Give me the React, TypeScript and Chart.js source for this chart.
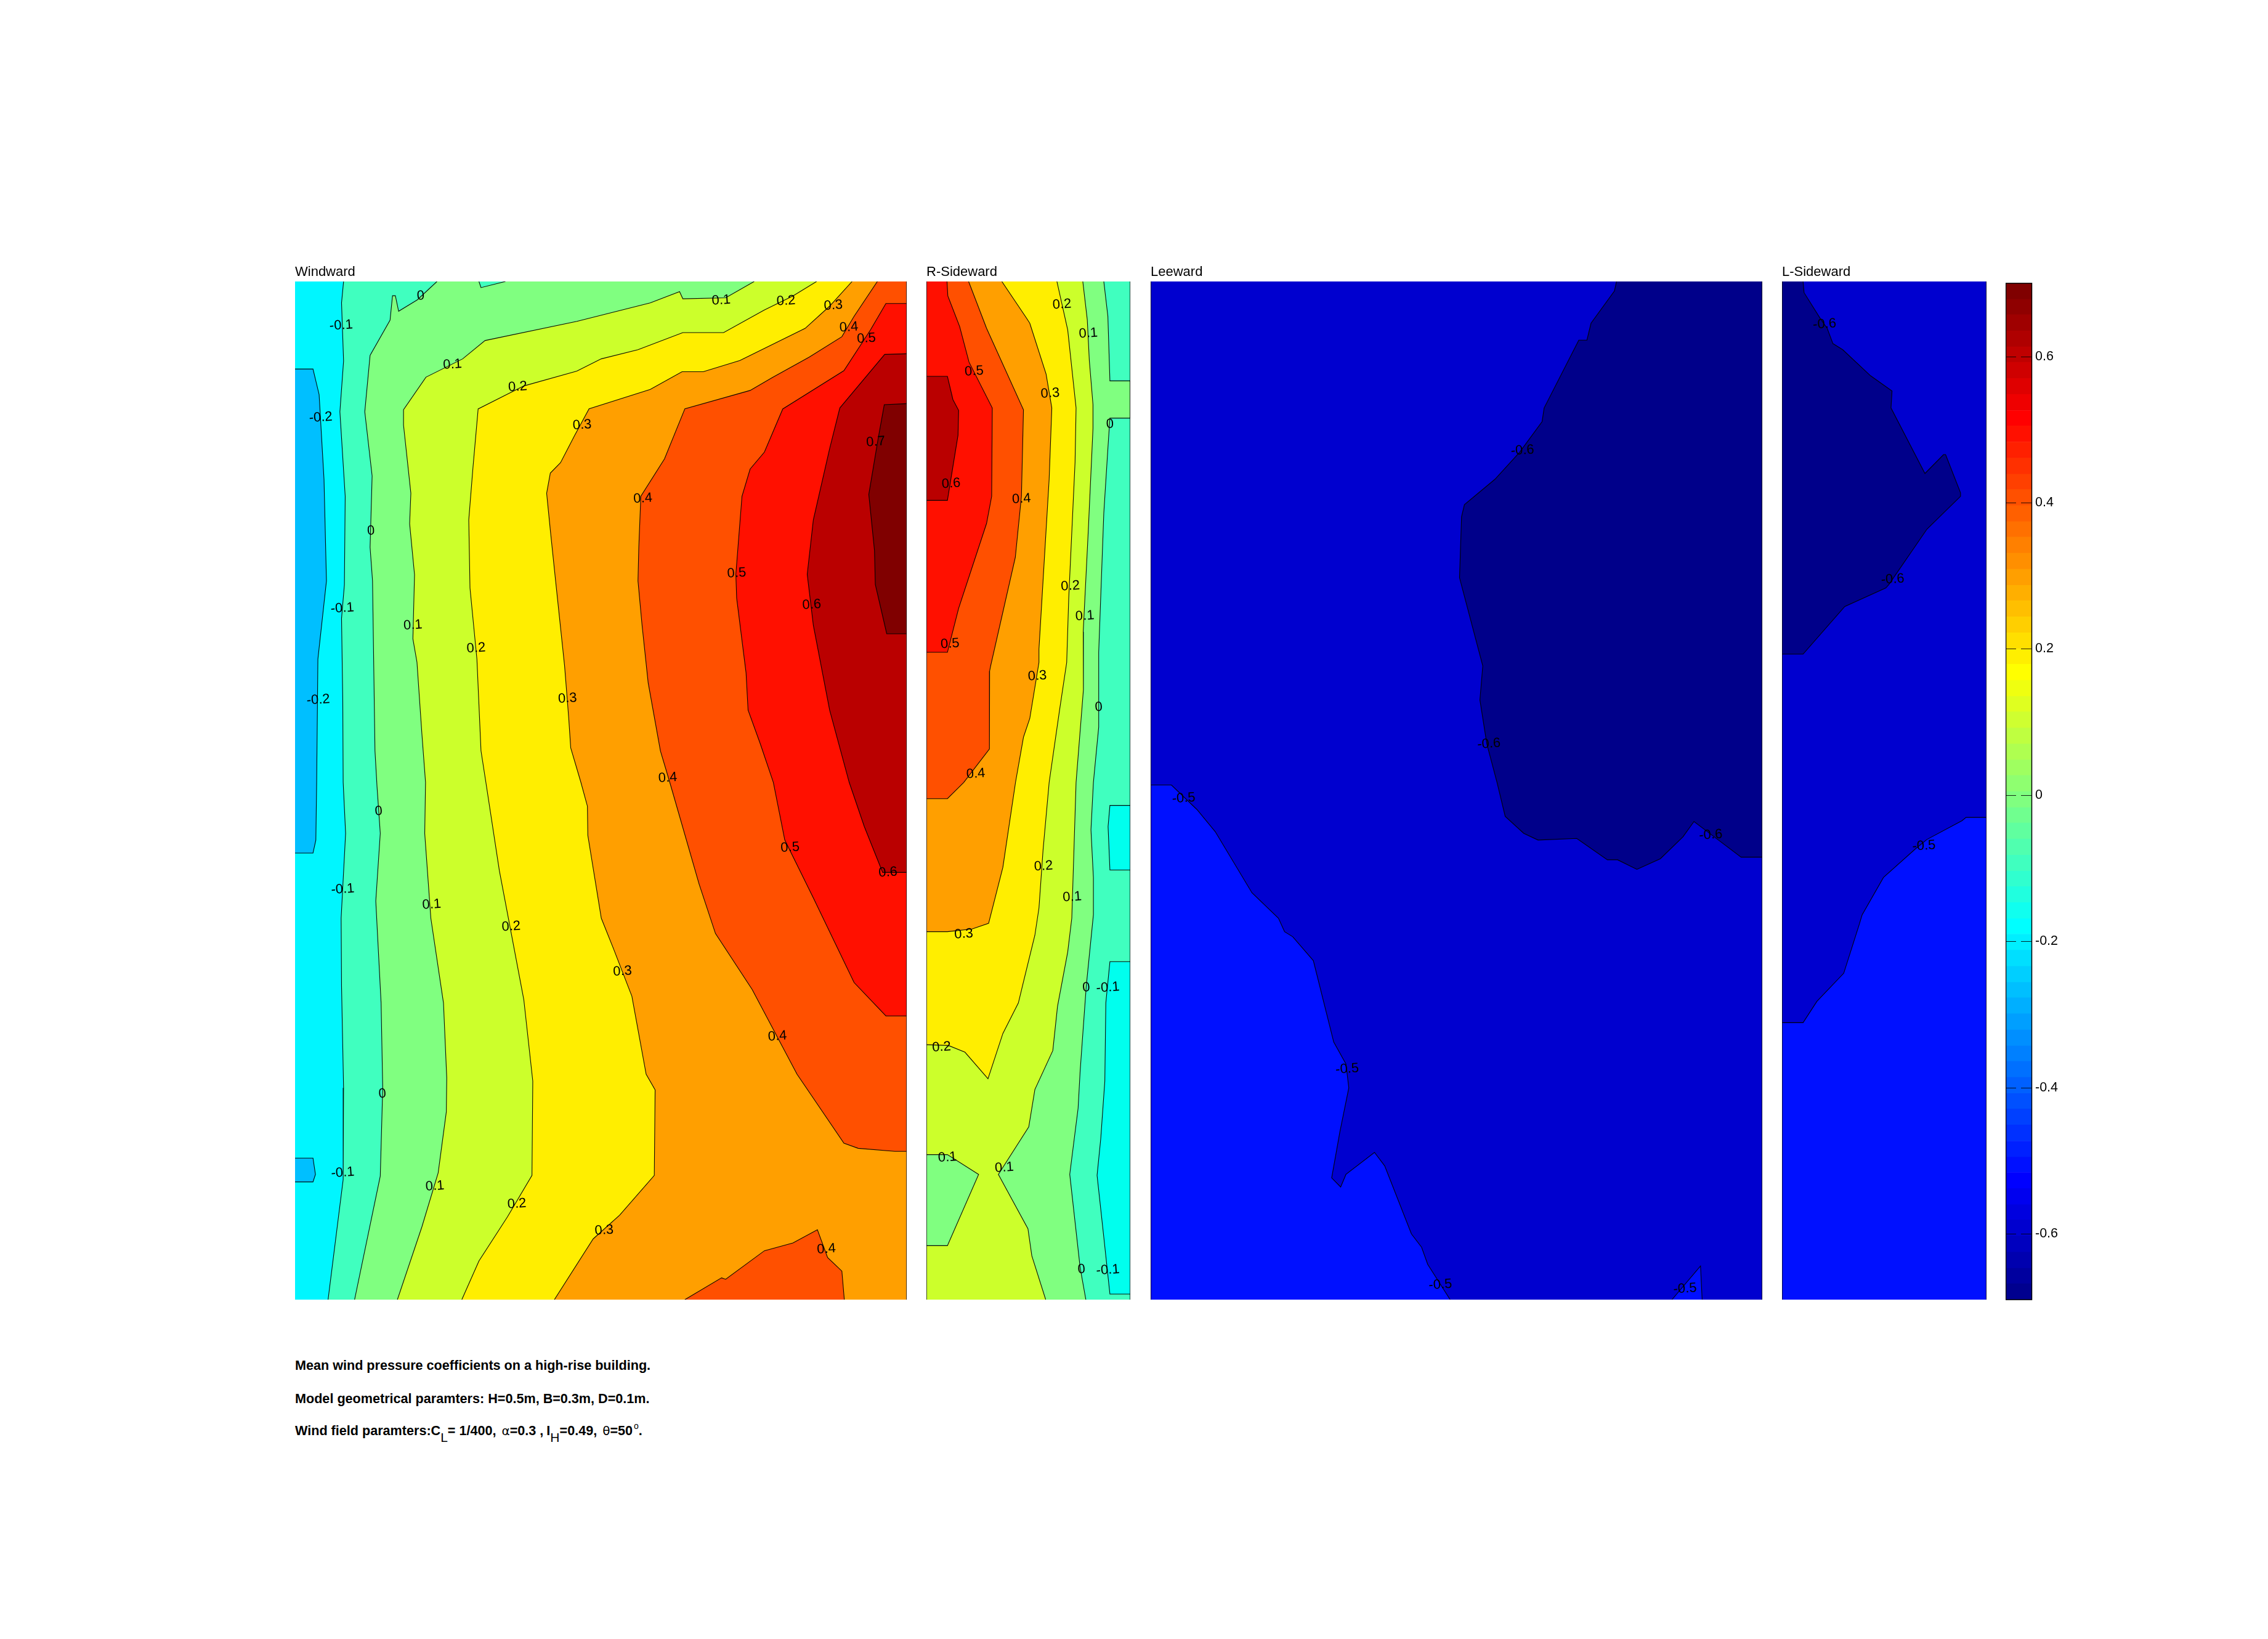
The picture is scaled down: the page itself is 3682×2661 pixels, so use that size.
import React, { useEffect, useRef } from "react";
import { Chart, registerables } from "chart.js";

Chart.register(...registerables);

const FONT = '"Liberation Sans", Arial, sans-serif';

type P = number[];
type L = [number, number, string];

// Coordinates: x along the face in mm, z height above ground in mm (H = 500 mm).

/* ---------- Windward face (B = 300 mm) ---------- */
const windM01: P[] = [[23.8,500],[22.8,489.5],[23.8,461],[22,436],[24.6,394.5],[24.2,351],[22.8,334.5],[23.4,294.5],[23.6,254],[24.8,229],[22.6,187.3],[22.8,154],[23.8,104],[23.6,59],[16.2,0]];
const wind00: P[] = [[69.6,500],[60,491],[50.8,485.4],[49.2,493],[47.8,493],[46.6,481],[36.8,463.7],[34.2,436],[37.8,404.5],[36.8,369.5],[38,353],[38.6,311],[39.2,269.5],[40.2,252],[41.8,229],[39.6,195.7],[42.2,145.7],[43,104],[41.8,60.7],[29.2,0]];
const wind00Patch: P[] = [[90.2,500],[91.2,497],[103.2,500]];
const wind01: P[] = [[225.2,500],[211.2,492],[190.2,491.5],[188.6,495],[174.2,489.5],[138.2,480.4],[93.2,471],[82.2,462],[64.2,453],[53.2,437],[53.2,429.5],[56.8,396],[56.2,381],[58.6,356],[57.8,324.5],[59.8,313],[62.2,278],[64,254],[63.6,229],[66.6,187.3],[72.8,145.7],[74.4,109],[74.2,92.3],[70.2,62.3],[62.2,35.7],[50.2,0]];
const wind02: P[] = [[255.8,500],[244.2,492.9],[230.2,486],[210.2,474.9],[190.2,474.9],[168.2,466.5],[150.2,462],[138.2,456],[112.2,448.7],[89.8,437.4],[87.2,407.9],[85.2,382.9],[85.8,349.5],[89.2,314.5],[91.2,269.5],[93.6,254],[100.2,210.7],[106.2,179],[112.2,147.3],[116.6,107.3],[116.2,61],[104.2,40.7],[90.2,19],[81.8,0]];
const wind03: P[] = [[273.2,500],[262.2,487.9],[250.2,477],[218.2,461.2],[200.2,455.7],[189.8,455.7],[174.2,447],[144.2,437.5],[137.2,424.5],[130.2,411],[125.2,405.9],[123.4,396],[125.2,377.9],[127.8,352.9],[132.2,311.2],[134.2,286],[135.2,271],[140.2,254],[143.4,242.3],[143.6,228],[150.2,187.3],[156.2,172.3],[165.2,149],[172.2,110.7],[176.6,103],[176.2,61],[159.2,41.5],[146.2,29.8],[127.2,0]];
const wind04: P[] = [[285.6,500],[274.2,482.9],[268.2,472.9],[252.2,462.9],[234.2,452.9],[223.2,446.5],[191.2,437.5],[181.2,412.9],[169.6,394.5],[168.6,369.5],[168.2,352.9],[170.2,331.2],[173.2,302.9],[179.2,269.5],[183.8,254],[198.2,204],[206.2,179.8],[224.2,152.3],[246.2,110.7],[269.2,76.8],[276.2,74.3],[294.2,72.8],[300,72.8]];
const wind04Island: P[] = [[191.2,0],[209.2,10.7],[211.2,10],[230.2,24],[244.2,27.8],[256.2,34.3],[261.2,20.7],[268.2,14],[269.4,0]];
const wind05: P[] = [[300,489.2],[289.8,489.2],[282.2,476.2],[269.2,456.2],[239.2,437.4],[230.2,416.2],[223.2,407.9],[219.2,394.5],[216.2,356.2],[216.6,344.5],[221.2,307.9],[222.2,289.5],[228.2,272.9],[234.6,254],[240.2,225.7],[254.2,197.3],[274.2,155.7],[289.8,139.3],[300,139.3]];
const wind06: P[] = [[300,464.5],[289.2,464.2],[267.2,437.9],[262.2,417.9],[254.2,382.9],[251.2,356.2],[254.2,331.2],[262.2,289.5],[271.8,254],[279.2,232.3],[288.2,209.8],[300,209.8]];
const wind07: P[] = [[300,440],[289,439.5],[286,422.9],[281.4,395.4],[284.2,367.9],[284.6,351.2],[290.2,327],[300,327]];
const windLow1: P[] = [[0,457],[8.8,457],[11.8,444.5],[14.2,402.9],[15.4,352.9],[11.2,314.5],[10.6,254],[10.2,225.7],[8.8,219.3],[0,219.3]];
const windLow2: P[] = [[0,69.5],[8.8,69.5],[10,61.5],[8.8,57.8],[0,57.8]];
const windLabels: L[] = [[22.6,478.4,"-0.1"],[61.6,492.9,"0"],[209,490.7,"0.1"],[240.8,490.4,"0.2"],[264,488.2,"0.3"],[271.6,477.5,"0.4"],[280.2,472,"0.5"],[77.2,459.2,"0.1"],[109.2,448.2,"0.2"],[12.6,433.2,"-0.2"],[140.8,429.5,"0.3"],[284.8,421.2,"0.7"],[170.6,393.4,"0.4"],[37.2,377.5,"0"],[216.6,356.7,"0.5"],[253.4,341.2,"0.6"],[23.2,339.5,"-0.1"],[57.8,331.2,"0.1"],[88.8,319.9,"0.2"],[133.6,295.2,"0.3"],[11.4,294.5,"-0.2"],[182.8,256.2,"0.4"],[41,239.8,"0"],[242.8,222,"0.5"],[290.8,209.8,"0.6"],[23.4,201.5,"-0.1"],[67,194,"0.1"],[106,183.2,"0.2"],[160.6,161.2,"0.3"],[236.6,129.3,"0.4"],[42.8,101,"0"],[23.4,62.3,"-0.1"],[68.6,55.7,"0.1"],[108.8,47,"0.2"],[151.6,34,"0.3"],[260.6,24.8,"0.4"]];

/* ---------- R-Sideward face (D = 100 mm) ---------- */
const rsideCyan1: P[] = [[100,242.7],[90,242.7],[89.1,232.3],[90,211],[100,211]];
const rsideCyan2: P[] = [[100,166],[90,166],[88,145.7],[87.5,107.3],[85.5,79],[83.7,61],[87,30.7],[90,2.7],[100,2.7]];
const rside00: P[] = [[87,500],[89,482.9],[90,451.2],[100,451.2],[100,432.9],[90,432.9],[89,417.9],[87,386.2],[84.5,317.9],[84.5,281.2],[81.9,254],[80.7,230.7],[81.9,207.3],[81.9,189],[78.4,154],[75.4,112.3],[74.4,94],[70.3,61.5],[75.4,15.7],[78.2,0]];
const rside01: P[] = [[76.7,500],[78.9,481.2],[79.9,461.2],[81.7,439.5],[81.7,427.9],[79.4,377.9],[76.9,327.9],[77,299.5],[73.4,254],[71.3,187.3],[69.3,170.7],[64.3,144],[62,122.3],[53.2,103.2],[50.2,84.8],[35.3,61.5],[49.8,34.8],[51.7,21.5],[58.5,0]];
const rside01Island: P[] = [[0,71.2],[10.3,71.2],[25.6,61.5],[10.3,26.5],[0,26.5]];
const rside02: P[] = [[64,500],[69.3,476.2],[73.4,437.9],[72.9,411.2],[69.8,344.5],[68.8,312.9],[65.3,289.5],[60.2,254],[57.2,220.7],[55.2,192.3],[53.2,179],[47.1,154],[45.1,145.7],[37.5,130.7],[30.2,108.5],[18.9,121.5],[10.8,124.8],[0,125.2]];
const rside03: P[] = [[37,500],[49.1,482],[50.7,479.5],[58.7,454.5],[61.5,437.9],[60.2,402.9],[57.2,352.9],[55.2,319.5],[55.2,312.9],[50.7,285.4],[47.6,276.2],[43.7,254],[37.5,212.3],[30.5,184.8],[22.4,182],[10.3,180.7],[0,180.7]];
const rside04: P[] = [[20.7,500],[29.5,477],[47.6,437],[46.6,394.5],[43.6,364.5],[31.5,311.2],[31,308.7],[30.9,270.4],[18.3,254],[10.3,246],[0,246]];
const rside05: P[] = [[10.1,500],[10.5,492.9],[16.3,477.9],[20.9,460.4],[32.3,437.9],[32,394.5],[29.5,381.2],[15.8,339.5],[10.3,317.9],[0,317.9]];
const rside06: P[] = [[0,453.4],[10.3,453.4],[13,442],[15.8,436.7],[15.5,424.5],[10.3,392.5],[0,392.5]];
const rsideLabels: L[] = [[66.5,488.7,"0.2"],[79.4,474.5,"0.1"],[23.4,455.9,"0.5"],[60.7,445,"0.3"],[90,429.9,"0"],[12.1,400.7,"0.6"],[46.6,393.2,"0.4"],[70.6,350.4,"0.2"],[77.7,335.7,"0.1"],[11.6,322,"0.5"],[54.4,306.2,"0.3"],[84.5,290.9,"0"],[24.2,258.2,"0.4"],[57.4,212.8,"0.2"],[71.5,197.7,"0.1"],[18.3,179.5,"0.3"],[78.4,153.2,"0"],[89,153.2,"-0.1"],[7.4,124,"0.2"],[10.3,69.8,"0.1"],[38.2,64.8,"0.1"],[76,14.8,"0"],[89,14.5,"-0.1"]];

/* ---------- Leeward face (B = 300 mm) ---------- */
const leeLight1: P[] = [[0,252.7],[10.2,252.7],[22.7,240.7],[31.7,229.8],[49.7,199.8],[62.7,187.3],[65.7,180.7],[69.7,178.2],[79.8,166.5],[89.8,126.5],[95.8,115.7],[97.2,104],[92.8,82.3],[88.8,59.8],[93.2,55.3],[95.8,61.5],[109.8,72.3],[114.8,65.7],[127.9,32.3],[132.9,25.7],[135.9,17.3],[146.9,0]];
const leeLight2: P[] = [[255.7,0],[269.7,16.5],[270.5,0]];
const leeDark: P[] = [[228.5,500],[227.5,495.4],[216,479.5],[214,471.2],[210,471.2],[193,437.9],[192,431.2],[181,416.2],[168.9,402.9],[153.9,390.4],[152.5,384.5],[151.5,354.5],[162.9,311.2],[161.5,294.5],[164.9,272.9],[169.9,254],[173.9,237.3],[183,229],[190,225.7],[209,226.5],[224,216],[229,216],[238.5,211.3],[250,216.5],[261.1,227.3],[266.5,234.8],[275.2,228.2],[289.6,217.3],[300,217.3]];
const leeLabels: L[] = [[182.4,417,"-0.6"],[165.9,272.9,"-0.6"],[16.2,246.2,"-0.5"],[274.7,228.2,"-0.6"],[96.4,113.2,"-0.5"],[142.1,7.3,"-0.5"],[262.1,5.3,"-0.5"]];

/* ---------- L-Sideward face (D = 100 mm) ---------- */
const lsideDark: P[] = [[10.3,500],[10.8,494.5],[19.1,481.2],[22.1,477],[24.9,469.5],[29.7,466.5],[43.3,453.7],[53.8,446.2],[53.3,437.9],[69.9,405.7],[79,415],[80,415],[87.3,396.2],[87.3,394.5],[70.9,378.4],[52.3,351.2],[50.8,349.5],[30.7,340.4],[10.3,317],[0,317]];
const lsideLight: P[] = [[100,236.8],[90,236.8],[88,235.2],[70.9,226],[65.4,221.5],[49.6,207.3],[39.2,189],[37.7,184],[30.2,160.3],[17.1,146.5],[10.3,136],[0,136]];
const lsideLabels: L[] = [[20.8,479,"-0.6"],[54.1,353.7,"-0.6"],[69.4,222.8,"-0.5"]];

/* ---------- Colour bar ---------- */
const barEdges = [-0.69,-0.668,-0.647,-0.625,-0.603,-0.581,-0.56,-0.538,-0.516,-0.495,-0.473,-0.451,-0.429,-0.408,-0.386,-0.364,-0.343,-0.321,-0.299,-0.277,-0.256,-0.234,-0.212,-0.19,-0.169,-0.147,-0.125,-0.104,-0.082,-0.06,-0.038,-0.017,0.005,0.027,0.048,0.07,0.092,0.114,0.135,0.157,0.179,0.2,0.222,0.244,0.266,0.287,0.309,0.331,0.353,0.374,0.396,0.418,0.439,0.461,0.483,0.505,0.526,0.548,0.57,0.592,0.613,0.635,0.657,0.678,0.7];
const barTicks = [-0.6,-0.4,-0.2,0,0.2,0.4,0.6];

const footerLines = [
  "Mean wind pressure coefficients on a high-rise building.",
  "Model geometrical paramters: H=0.5m, B=0.3m, D=0.1m.",
];

/* ---------- Styles ---------- */
const C = {
  deep: "rgb(0,191,255)", cyan: "rgb(0,246,255)", cyan2: "rgb(0,255,238)", aqua: "rgb(64,255,191)",
  green: "rgb(128,255,128)", lime: "rgb(204,255,43)", yellow: "rgb(255,238,0)", orange: "rgb(255,159,0)",
  orangeRed: "rgb(255,80,0)", red: "rgb(255,16,0)", darkRed: "rgb(186,0,0)", maroon: "rgb(128,0,0)",
  navyLight: "rgb(0,16,255)", navyMid: "rgb(0,0,207)", navyDark: "rgb(0,0,138)",
};

type Band = { line: P[]; close: P[]; color: string };

const TR: P[] = [[300, 500]];
const BRTR: P[] = [[300, 0], [300, 500]];
const RTR100: P[] = [[0, 0], [0, 500]];

const windBands: Band[] = [
  { line: windM01, close: BRTR, color: C.aqua },
  { line: wind00, close: BRTR, color: C.green },
  { line: wind00Patch, close: [], color: C.aqua },
  { line: wind01, close: BRTR, color: C.lime },
  { line: wind02, close: BRTR, color: C.yellow },
  { line: wind03, close: BRTR, color: C.orange },
  { line: wind04, close: TR, color: C.orangeRed },
  { line: wind04Island, close: [], color: C.orangeRed },
  { line: wind05, close: [], color: C.red },
  { line: wind06, close: [], color: C.darkRed },
  { line: wind07, close: [], color: C.maroon },
  { line: windLow1, close: [], color: C.deep },
  { line: windLow2, close: [], color: C.deep },
];
const rsideBands: Band[] = [
  { line: rsideCyan1, close: [], color: C.cyan2 },
  { line: rsideCyan2, close: [], color: C.cyan2 },
  { line: rside00, close: RTR100, color: C.green },
  { line: rside01, close: RTR100, color: C.lime },
  { line: rside01Island, close: [], color: C.green },
  { line: rside02, close: [[0, 500]], color: C.yellow },
  { line: rside03, close: [[0, 500]], color: C.orange },
  { line: rside04, close: [[0, 500]], color: C.orangeRed },
  { line: rside05, close: [[0, 500]], color: C.red },
  { line: rside06, close: [], color: C.darkRed },
];
const leeBands: Band[] = [
  { line: leeLight1, close: [[0, 0]], color: C.navyLight },
  { line: leeLight2, close: [], color: C.navyLight },
  { line: leeDark, close: TR, color: C.navyDark },
];
const lsideBands: Band[] = [
  { line: lsideLight, close: [[0, 0], [100, 0]], color: C.navyLight },
  { line: lsideDark, close: [[0, 500]], color: C.navyDark },
];

const toXY = (pts: P[]) => pts.map(([x, y]) => ({ x, y }));

const LINE = "rgba(0,0,0,0.95)";

function panelDatasets(width: number, base: string, bands: Band[], edges: number[]) {
  const sets: any[] = [];
  const rect: P[] = [[0, 0], [width, 0], [width, 500], [0, 500]];
  sets.push({ data: toXY(rect), fill: "shape", backgroundColor: base, borderWidth: 0, pointRadius: 0, showLine: true });
  for (const b of bands) {
    sets.push({ data: toXY([...b.line, ...b.close]), fill: "shape", backgroundColor: b.color, borderWidth: 0, pointRadius: 0, showLine: true });
    sets.push({ data: toXY(b.line), fill: false, borderColor: LINE, borderWidth: 1.1, pointRadius: 0, showLine: true });
  }
  for (const e of edges) {
    sets.push({ data: toXY([[e, 0], [e, 500]]), fill: false, borderColor: LINE, borderWidth: 1.5, pointRadius: 0, showLine: true });
  }
  return sets.reverse();
}

const labelPlugin = (labels: L[]) => ({
  id: "contourLabels",
  afterDatasetsDraw(chart: any) {
    const { ctx, scales } = chart;
    ctx.save();
    ctx.font = `22px ${FONT}`;
    ctx.fillStyle = "#000";
    ctx.textAlign = "center";
    ctx.textBaseline = "middle";
    for (const [x, y, t] of labels) {
      ctx.save();
      ctx.translate(scales.x.getPixelForValue(x), scales.y.getPixelForValue(y));
      ctx.rotate((-4 * Math.PI) / 180);
      ctx.fillText(t, 0, 0);
      ctx.restore();
    }
    ctx.restore();
  },
});

function Panel(props: { title: string; left: number; w: number; xMax: number; base: string; bands: Band[]; labels: L[]; edges: number[] }) {
  const ref = useRef<HTMLCanvasElement>(null);
  useEffect(() => {
    const chart = new Chart(ref.current!, {
      type: "scatter",
      data: { datasets: panelDatasets(props.xMax, props.base, props.bands, props.edges) },
      options: {
        animation: false,
        responsive: false,
        layout: { padding: 0 },
        elements: { line: { tension: 0 } },
        scales: {
          x: { type: "linear", min: 0, max: props.xMax, display: false },
          y: { type: "linear", min: 0, max: 500, display: false },
        },
        plugins: {
          legend: { display: false },
          tooltip: { enabled: false },
          title: { display: true, text: props.title, align: "start", color: "#000", font: { family: FONT, size: 22, weight: "normal", lineHeight: 1.2 }, padding: { top: 5.8, bottom: 1.8 } },
        },
      },
      plugins: [labelPlugin(props.labels)],
    } as any);
    return () => chart.destroy();
  }, []);
  return <canvas ref={ref} width={props.w} height={1687} style={{ position: "absolute", left: props.left, top: 423, width: props.w, height: 1687 }} />;
}

function jet(i: number) {
  const f = (v: number) => Math.round(255 * Math.max(0, Math.min(1, v)));
  const t = (i + 1) / 16;
  const r = f(Math.min(t - 1.5, 4.5 - t));
  const g = f(Math.min(t - 0.5, 3.5 - t));
  const b = f(Math.min(t + 0.5, 2.5 - t));
  return `rgb(${r},${g},${b})`;
}

const barFrame = {
  id: "barFrame",
  afterDatasetsDraw(chart: any) {
    const { ctx, chartArea: a, scales } = chart;
    ctx.save();
    ctx.strokeStyle = "#000";
    ctx.lineWidth = 1.5;
    ctx.strokeRect(a.left + 0.5, a.top, a.right - a.left - 1, a.bottom - a.top);
    ctx.lineWidth = 1;
    ctx.strokeStyle = "rgba(0,0,0,0.85)";
    for (const v of barTicks) {
      const y = Math.round(scales.y.getPixelForValue(v)) + 0.5;
      ctx.beginPath();
      ctx.moveTo(a.left, y);
      ctx.lineTo(a.left + 17, y);
      ctx.moveTo(a.right - 18, y);
      ctx.lineTo(a.right, y);
      ctx.stroke();
    }
    ctx.restore();
  },
};

function ColorBar() {
  const ref = useRef<HTMLCanvasElement>(null);
  useEffect(() => {
    const bands = barEdges.slice(0, -1).map((lo, i) => ({
      data: [[lo, barEdges[i + 1]]],
      backgroundColor: jet(i),
      borderWidth: 0,
      barPercentage: 1,
      categoryPercentage: 1,
      grouped: false,
    }));
    const chart = new Chart(ref.current!, {
      type: "bar",
      data: { labels: ["Cp"], datasets: bands },
      options: {
        animation: false,
        responsive: false,
        layout: { padding: { top: 15, bottom: 15, left: 0, right: 0 } },
        scales: {
          x: { display: false },
          y: {
            position: "right",
            min: -0.69,
            max: 0.7,
            grid: { display: false, drawTicks: false },
            border: { display: false },
            afterBuildTicks: (axis: any) => { axis.ticks = barTicks.map((value) => ({ value })); },
            afterFit: (axis: any) => { axis.width = 60; },
            ticks: {
              autoSkip: false,
              padding: 5,
              maxRotation: 0,
              color: "#000",
              font: { family: FONT, size: 21.5 },
              callback: (v: any) => String(Number(v)),
            },
          },
        },
        plugins: { legend: { display: false }, tooltip: { enabled: false } },
      },
      plugins: [barFrame],
    } as any);
    return () => chart.destroy();
  }, []);
  return <canvas ref={ref} width={103} height={1686} style={{ position: "absolute", left: 3256, top: 442, width: 103, height: 1686 }} />;
}

const footStyle: React.CSSProperties = { position: "absolute", left: 479, fontFamily: FONT, fontWeight: "bold", fontSize: 21.6, lineHeight: "24px", color: "#000", whiteSpace: "nowrap" };
const subStyle: React.CSSProperties = { fontWeight: "normal", fontSize: 21, position: "relative", top: 11, lineHeight: 0 };
const supStyle: React.CSSProperties = { fontWeight: "normal", fontSize: 14, position: "relative", top: -10, lineHeight: 0, marginLeft: 2 };
const symStyle: React.CSSProperties = { fontWeight: "normal", fontFamily: '"DejaVu Sans", sans-serif', fontSize: 20, marginLeft: 3 };

export default function App() {
  return (
    <div style={{ position: "absolute", left: 0, top: 0, width: 3682, height: 2661, background: "#fff", overflow: "hidden" }}>
      <Panel title="Windward" left={479} w={993} xMax={300} base={C.cyan} bands={windBands} labels={windLabels} edges={[300]} />
      <Panel title="R-Sideward" left={1504} w={331} xMax={100} base={C.aqua} bands={rsideBands} labels={rsideLabels} edges={[0, 100]} />
      <Panel title="Leeward" left={1868} w={993} xMax={300} base={C.navyMid} bands={leeBands} labels={leeLabels} edges={[0, 300]} />
      <Panel title="L-Sideward" left={2893} w={332} xMax={100} base={C.navyMid} bands={lsideBands} labels={lsideLabels} edges={[0, 100]} />
      <ColorBar />
      <div style={{ ...footStyle, top: 2205 }}>{footerLines[0]}</div>
      <div style={{ ...footStyle, top: 2259 }}>{footerLines[1]}</div>
      <div style={{ ...footStyle, top: 2311 }}>
        Wind field paramters:C<span style={subStyle}>L</span>= 1/400, <span style={symStyle}>α</span>=0.3 ,<span style={{ marginLeft: 5 }}>I</span><span style={subStyle}>H</span>=0.49, <span style={symStyle}>θ</span>=50<span style={supStyle}>o</span>.
      </div>
    </div>
  );
}
